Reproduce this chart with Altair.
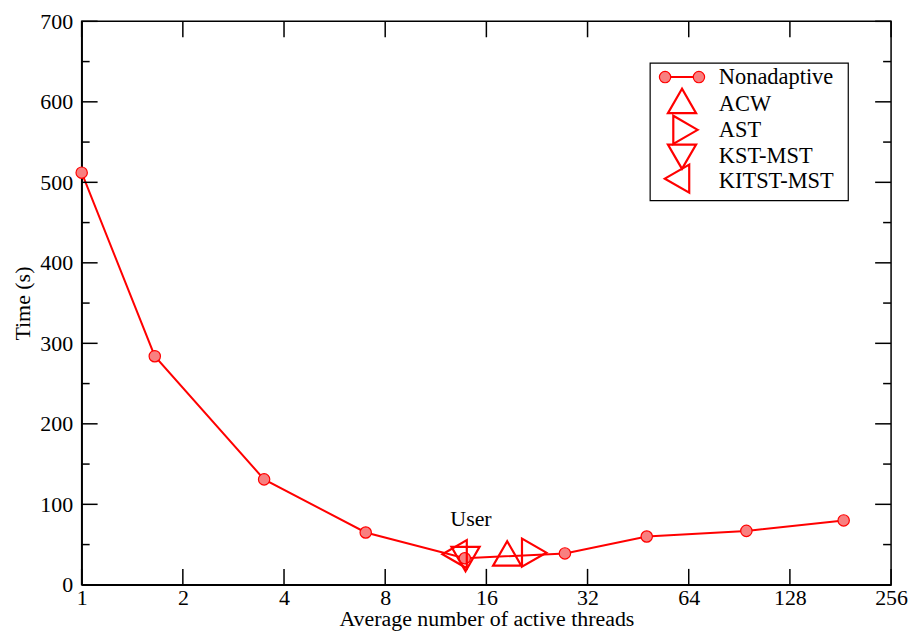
import altair as alt
import pandas as pd

# ---- data ----
threads = [1, 1.65, 3.49, 7.0, 13.8, 27.4, 48.0, 95.0, 185.0]
times = [512, 284, 131, 65, 33, 39, 60, 67, 80]

adaptive_names = ["ACW", "AST", "KST-MST", "KITST-MST"]
adaptive_threads = [18.45, 22.2, 13.87, 12.87]
adaptive_times = [39, 40, 32, 38]
adaptive_shapes = ["triangle-up", "triangle-right", "triangle-down", "triangle-left"]

annot_text = ["User"]
annot_x = [14.4]
annot_y = [82]

x_ticks = [1, 2, 4, 8, 16, 32, 64, 128, 256]
y_ticks = [0, 100, 200, 300, 400, 500, 600, 700]
y_minor = [50, 150, 250, 350, 450, 550, 650]

legend_labels = ["Nonadaptive"] + adaptive_names

# ---- layout ----
W, H = 813, 566
FONT = "Liberation Serif"
RED = "#ff0000"

axis_style = dict(labelFont=FONT, labelFontSize=22, labelColor="black",
                  titleFont=FONT, titleFontSize=22, titleFontWeight="normal", titleColor="black",
                  ticks=False, grid=False, domainColor="black", domainWidth=1.5,
                  labelFlush=False, labelOverlap=False)

xscale = alt.Scale(type="log", base=2, domain=[1, 256], nice=False)
yscale = alt.Scale(domain=[0, 700], nice=False, zero=False)
xaxis = alt.Axis(values=x_ticks, format="d", title="Average number of active threads",
                 labelPadding=3, titlePadding=0, **axis_style)
yaxis = alt.Axis(values=y_ticks, title="Time (s)", labelPadding=9, titlePadding=5, **axis_style)
XE = alt.X("threads:Q", scale=xscale, axis=xaxis)
YE = alt.Y("time:Q", scale=yscale, axis=yaxis)

df = pd.DataFrame({"threads": threads, "time": times})
df_ad = pd.DataFrame({"name": adaptive_names, "threads": adaptive_threads,
                      "time": adaptive_times, "shape": adaptive_shapes})
df_an = pd.DataFrame({"text": annot_text, "threads": annot_x, "time": annot_y})
df_xt = pd.DataFrame({"threads": x_ticks})
df_yt = pd.DataFrame({"time": y_ticks})
df_ym = pd.DataFrame({"time": y_minor})

line = alt.Chart(df).mark_line(color=RED, strokeWidth=2).encode(x=XE, y=YE)
pts = alt.Chart(df).mark_point(shape="circle", filled=True, fill="#f88080", stroke=RED,
                               strokeWidth=1.2, size=130, opacity=1).encode(x=XE, y=YE)
tri = alt.Chart(df_ad).mark_point(filled=False, color=RED, strokeWidth=2.2, size=800, opacity=1).encode(
    x=XE, y=YE, shape=alt.Shape("shape:N", scale=None))
annot = alt.Chart(df_an).mark_text(font=FONT, fontSize=22, color="black", baseline="middle").encode(
    x=XE, y=YE, text="text:N")

# inward ticks on all four sides
tick_style = dict(color="black", strokeWidth=1.5)
xb = alt.Chart(df_xt).mark_rule(**tick_style).encode(x=XE, y=alt.value(H), y2=alt.value(H - 16))
xt = alt.Chart(df_xt).mark_rule(**tick_style).encode(x=XE, y=alt.value(0), y2=alt.value(16))
yl = alt.Chart(df_yt).mark_rule(**tick_style).encode(y=YE, x=alt.value(0), x2=alt.value(16))
yr = alt.Chart(df_yt).mark_rule(**tick_style).encode(y=YE, x=alt.value(W), x2=alt.value(W - 16))
yml = alt.Chart(df_ym).mark_rule(**tick_style).encode(y=YE, x=alt.value(0), x2=alt.value(8))
ymr = alt.Chart(df_ym).mark_rule(**tick_style).encode(y=YE, x=alt.value(W), x2=alt.value(W - 8))

# ---- legend (drawn manually, positioned in pixels) ----
LX0, LX1, LY0, LY1 = 571, 770, 42, 180
row_y = [56, 80, 109, 136, 158]
text_y = [56, 83, 109, 135, 160]
mark_x = [603, 606.5, 603, 598]
one = pd.DataFrame({"a": [0]})

legend_layers = [
    alt.Chart(one).mark_rect(fill="white", stroke="black", strokeWidth=1.2).encode(
        x=alt.value(LX0), x2=alt.value(LX1), y=alt.value(LY0), y2=alt.value(LY1)),
    alt.Chart(one).mark_rule(color=RED, strokeWidth=2).encode(
        x=alt.value(586), x2=alt.value(620), y=alt.value(row_y[0])),
]
for px in (586, 620):
    legend_layers.append(
        alt.Chart(one).mark_point(shape="circle", filled=True, fill="#f88080", stroke=RED,
                                  strokeWidth=1.2, size=130, opacity=1).encode(
            x=alt.value(px), y=alt.value(row_y[0])))
for i, shp in enumerate(adaptive_shapes):
    legend_layers.append(
        alt.Chart(one).mark_point(shape=shp, filled=False, color=RED, strokeWidth=2.2,
                                  size=800, opacity=1).encode(
            x=alt.value(mark_x[i]), y=alt.value(row_y[i + 1])))
for i, lab in enumerate(legend_labels):
    legend_layers.append(
        alt.Chart(one).mark_text(font=FONT, fontSize=22.5, align="left", baseline="middle",
                                 color="black", text=lab).encode(
            x=alt.value(640), y=alt.value(text_y[i])))

chart = alt.layer(
    line, pts, tri, annot, xb, xt, yl, yr, yml, ymr, *legend_layers,
).properties(
    width=W, height=H,
    autosize=alt.AutoSizeParams(type="none"),
    padding={"left": 74, "top": 12, "right": 17, "bottom": 47},
    background="white",
).configure_view(
    stroke="black", strokeWidth=1.5,
)

chart.save("out.html", embed_options={"renderer": "svg", "actions": False})
